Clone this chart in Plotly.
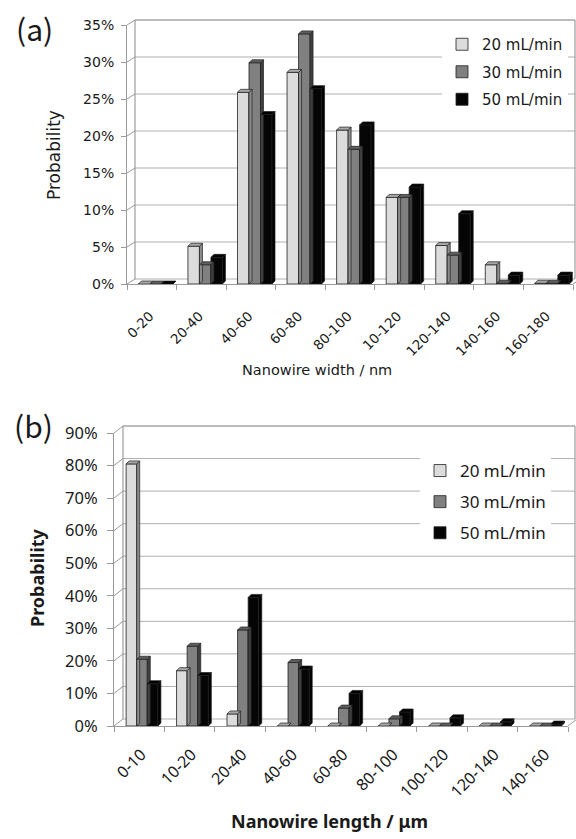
import plotly.graph_objects as go

# ---------------- data ----------------
width_cats = ["0-20", "20-40", "40-60", "60-80", "80-100", "10-120", "120-140", "140-160", "160-180"]
width_20 = [0, 5.1, 25.9, 28.6, 20.8, 11.7, 5.2, 2.6, 0.1]
width_30 = [0, 2.6, 29.9, 33.8, 18.2, 11.7, 3.9, 0.1, 0.1]
width_50 = [0, 3.6, 22.9, 26.4, 21.5, 13.1, 9.5, 1.2, 1.2]

length_cats = ["0-10", "10-20", "20-40", "40-60", "60-80", "80-100", "100-120", "120-140", "140-160"]
length_20 = [80.5, 17, 3.7, 0, 0, 0, 0, 0, 0]
length_30 = [20.5, 24.5, 29.5, 19.5, 5.5, 2.2, 0, 0, 0]
length_50 = [13, 15.5, 39.5, 17.5, 10, 4.3, 2.5, 1.3, 0.6]

series_names = ["20 mL/min", "30 mL/min", "50 mL/min"]
front_colors = ["#dcdcdc", "#808080", "#050505"]
top_colors = ["#a8a8a8", "#5e5e5e", "#000000"]
side_colors = ["#8c8c8c", "#404040", "#000000"]

W, H = 576, 839


def px(x):
    return x / W


def py(y):
    return 1 - y / H


# panel geometry (pixels)
PA = dict(x0=127, x1=573, y0=284, y1=25, vmax=35, dt=5, ddx=8, ddy=5,
          bw=0.232, off=-0.27, sdx=3, sdy=3)
PB = dict(x0=114, x1=568, y0=726, y1=433, vmax=90, dt=10, ddx=9, ddy=7,
          bw=0.21, off=-0.26, sdx=3, sdy=3)

fig = go.Figure()
shapes = []


def add_panel(cats, vals, P, xa, ya, legend):
    n = len(cats)
    catw = (P["x1"] - P["x0"]) / n
    ypp = (P["y0"] - P["y1"]) / P["vmax"]  # pixels per unit
    dx = P["sdx"] / catw
    dy = P["sdy"] / ypp
    for s, v in enumerate(vals):
        xl = [i + P["off"] + s * P["bw"] for i in range(n)]
        fig.add_trace(go.Bar(
            x=[a + P["bw"] / 2 for a in xl], y=v, width=P["bw"], name=series_names[s],
            marker=dict(color=front_colors[s], line=dict(color="#202020", width=0.8)),
            xaxis=xa, yaxis=ya, legend=legend, legendgroup=legend + str(s),
            hoverinfo="skip"))
        sx, sy, tx, ty = [], [], [], []
        for a, h in zip(xl, v):
            b = a + P["bw"]
            sx += [b, b + dx, b + dx, b, b, None]
            sy += [0, dy, h + dy, h, 0, None]
            tx += [a, b, b + dx, a + dx, a, None]
            ty += [h, h, h + dy, h + dy, h, None]
        for X, Y, c in ((sx, sy, side_colors[s]), (tx, ty, top_colors[s])):
            fig.add_trace(go.Scatter(
                x=X, y=Y, mode="lines", fill="toself", fillcolor=c,
                line=dict(color="#202020", width=0.7), xaxis=xa, yaxis=ya,
                showlegend=False, hoverinfo="skip"))

    # 3D box: back wall gridlines and side wall diagonals
    gx0, gx1 = P["x0"], P["x1"]
    bx = gx0 + P["ddx"]
    ticks = [P["dt"] * k for k in range(int(P["vmax"] / P["dt"]) + 1)]
    for t in ticks:
        yf = P["y0"] - t * ypp
        yb = yf - P["ddy"]
        top = (t == ticks[-1])
        shapes.append(dict(type="line", xref="paper", yref="paper",
                           x0=px(bx), x1=px(575), y0=py(yb), y1=py(yb), layer="below",
                           line=dict(color="#7a7a7a" if top else "#b0b0b0", width=1)))
        shapes.append(dict(type="line", xref="paper", yref="paper",
                           x0=px(gx0), x1=px(bx), y0=py(yf), y1=py(yb), layer="below",
                           line=dict(color="#9a9a9a", width=1)))
    ytop = P["y1"] - P["ddy"]
    ybot = P["y0"] - P["ddy"]
    for xx in (bx, 575):
        shapes.append(dict(type="line", xref="paper", yref="paper",
                           x0=px(xx), x1=px(xx), y0=py(ybot), y1=py(ytop), layer="below",
                           line=dict(color="#8a8a8a", width=1)))
    shapes.append(dict(type="line", xref="paper", yref="paper",
                       x0=px(gx1), x1=px(gx1 + P["ddx"]), y0=py(P["y0"]), y1=py(ybot),
                       layer="below", line=dict(color="#9a9a9a", width=1)))


add_panel(width_cats, [width_20, width_30, width_50], PA, "x", "y", "legend")
add_panel(length_cats, [length_20, length_30, length_50], PB, "x2", "y2", "legend2")

fa = "DejaVu Sans"
fb = "Noto Sans"


def xaxis_cfg(P, cats, font, size, standoff, shift, anchor):
    n = len(cats)
    return dict(
        domain=[px(P["x0"]), px(P["x1"])], range=[-0.5, n - 0.5], anchor=anchor,
        automargin=False,
        tickmode="array", tickvals=list(range(n)), ticktext=cats, tickangle=-45,
        ticks="", showline=True, linecolor="#9a9a9a", linewidth=1,
        showgrid=False, zeroline=False, fixedrange=True,
        tickfont=dict(family=font, size=size, color="#1a1a1a"),
        ticklabelstandoff=standoff, ticklabelshift=shift,
        minor=dict(tickmode="array", tickvals=[i - 0.5 for i in range(n + 1)],
                   ticks="outside", ticklen=5, tickcolor="#9a9a9a", showgrid=False),
    )


def yaxis_cfg(P, font, size, standoff, ticklen, anchor):
    return dict(
        domain=[py(P["y0"]), py(P["y1"])], range=[0, P["vmax"]], anchor=anchor,
        automargin=False,
        tickmode="linear", tick0=0, dtick=P["dt"], ticksuffix="%",
        ticks="outside", ticklen=ticklen, tickcolor="#9a9a9a",
        showline=True, linecolor="#9a9a9a", linewidth=1,
        showgrid=False, zeroline=False, fixedrange=True,
        tickfont=dict(family=font, size=size, color="#1a1a1a"),
        ticklabelstandoff=standoff,
    )


def ann(text, x, y, font, size, angle=0):
    return dict(text=text, x=px(x), y=py(y), xref="paper", yref="paper",
                xanchor="center", yanchor="middle", showarrow=False, textangle=angle,
                font=dict(family=font, size=size, color="#1a1a1a"))


fig.update_layout(
    width=W, height=H, margin=dict(l=0, r=0, t=0, b=0, autoexpand=False),
    paper_bgcolor="white", plot_bgcolor="rgba(0,0,0,0)",
    barmode="overlay", showlegend=True,
    xaxis=xaxis_cfg(PA, width_cats, fa, 13.5, 18, -2, "y"),
    yaxis=yaxis_cfg(PA, fa, 14, 4, 5, "x"),
    xaxis2=xaxis_cfg(PB, length_cats, fb, 16, 12, 2, "y2"),
    yaxis2=yaxis_cfg(PB, fb, 16.5, 6, 6, "x2"),
    shapes=shapes,
    legend=dict(x=px(442), y=py(28), xanchor="left", yanchor="top",
                bgcolor="white", borderwidth=0, traceorder="grouped", tracegroupgap=5,
                font=dict(family=fa, size=15, color="#1a1a1a")),
    legend2=dict(x=px(420), y=py(453), xanchor="left", yanchor="top",
                 bgcolor="white", borderwidth=0, traceorder="grouped", tracegroupgap=6,
                 font=dict(family=fb, size=17, color="#1a1a1a")),
    annotations=[
        ann("(a)", 34, 28, "Noto Sans CJK JP", 30),
        ann("(b)", 33, 425, "Noto Sans CJK JP", 30),
        ann("Probability", 54, 155, fa, 17, -90),
        ann("<b>Probability</b>", 37, 578, fb, 18, -90),
        ann("Nanowire width / nm", 317, 370, fa, 14.5),
        ann("<b>Nanowire length / μm</b>", 329, 821, fb, 18),
    ],
)

fig.write_html("out.html", config={"displayModeBar": False},
               post_script="document.body.style.margin='0px';")
